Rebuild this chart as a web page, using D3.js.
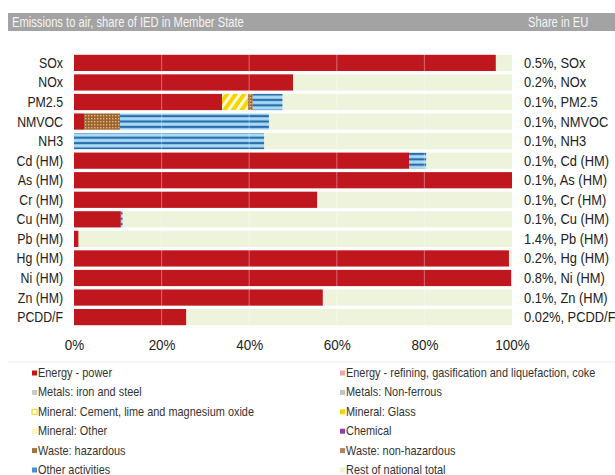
<!DOCTYPE html>
<html>
<head>
<meta charset="utf-8">
<script src="https://cdn.jsdelivr.net/npm/d3@7"></script>
<style>
  body { margin: 0; background: #fff; }
  svg { display: block; }
</style>
</head>
<body>
<div id="chart"></div>
<script>
/* global d3 */

// pollutants, top to bottom
var categories = ["SOx", "NOx", "PM2.5", "NMVOC", "NH3", "Cd (HM)", "As (HM)", "Cr (HM)",
  "Cu (HM)", "Pb (HM)", "Hg (HM)", "Ni (HM)", "Zn (HM)", "PCDD/F"];

// share in EU (right hand labels)
var euShare = ["0.5%", "0.2%", "0.1%", "0.1%", "0.1%", "0.1%", "0.1%", "0.1%",
  "0.1%", "1.4%", "0.2%", "0.8%", "0.1%", "0.02%"];

// share of national total, percent, per IED sector
var energyPower     = [96.3, 50.0, 33.8, 2.3, 0, 76.5, 100, 55.5, 10.7, 1.0, 99.3, 99.8, 56.8, 25.6];
var mineralCement   = [0, 0, 5.9, 0, 0, 0, 0, 0, 0, 0, 0, 0, 0, 0];
var wasteHazardous  = [0, 0, 1.1, 8.2, 0, 0, 0, 0, 0, 0, 0, 0, 0, 0];
var otherActivities = [0, 0, 6.8, 34.0, 43.4, 3.9, 0, 0, 0.4, 0, 0, 0, 0, 0];

var xTicks = [0, 20, 40, 60, 80, 100];

var legendLeft = [
  { name: "Energy - power", color: "#c0171f" },
  { name: "Metals: iron and steel", color: "#c9c9c9" },
  { name: "Mineral: Cement, lime and magnesium oxide", color: "#fff", stroke: "#f2d400" },
  { name: "Mineral: Other", color: "#fdf5bf" },
  { name: "Waste: hazardous", color: "#a4703c" },
  { name: "Other activities", color: "#4a8fd4" }
];
var legendRight = [
  { name: "Energy - refining, gasification and liquefaction, coke", color: "#f3a3ab" },
  { name: "Metals: Non-ferrous", color: "#c4c4c4" },
  { name: "Mineral: Glass", color: "#f4d600" },
  { name: "Chemical", color: "#8e3fb0" },
  { name: "Waste: non-hazardous", color: "#b08462" },
  { name: "Rest of national total", color: "#eef3dc" }
];

var W = 615, H = 475;
var FONT = "'Liberation Sans', Arial, sans-serif";
var SQ = 0.88;   // horizontal squeeze, the original uses a condensed face

var svg = d3.select("#chart").append("svg")
  .attr("width", W)
  .attr("height", H);

// text squeezed horizontally, anchored at x
function squeezed(sel, xPos, k) {
  return sel
    .attr("x", function (d, i) { return (typeof xPos === "function" ? xPos(d, i) : xPos) / k; })
    .attr("transform", "scale(" + k + ",1)");
}

//* PATTERNS
var defs = svg.append("defs");

var pStripe = defs.append("pattern")
  .attr("id", "pOther")
  .attr("patternUnits", "userSpaceOnUse")
  .attr("width", 6).attr("height", 5.4);
pStripe.append("rect").attr("width", 6).attr("height", 5.4).attr("fill", "#a9dcf4");
pStripe.append("rect").attr("y", 1.6).attr("width", 6).attr("height", 2.2).attr("fill", "#2a6aae");

var pHatch = defs.append("pattern")
  .attr("id", "pCement")
  .attr("patternUnits", "userSpaceOnUse")
  .attr("width", 7).attr("height", 7)
  .attr("patternTransform", "rotate(35)");
pHatch.append("rect").attr("width", 7).attr("height", 7).attr("fill", "#fff9d8");
pHatch.append("rect").attr("width", 4).attr("height", 7).attr("fill", "#f5d400");

var pCheck = defs.append("pattern")
  .attr("id", "pWaste")
  .attr("patternUnits", "userSpaceOnUse")
  .attr("width", 3).attr("height", 3);
pCheck.append("rect").attr("width", 3).attr("height", 3).attr("fill", "#9a6330");
pCheck.append("rect").attr("x", 1).attr("y", 1).attr("width", 1.4).attr("height", 1.4).attr("fill", "#e0b880");

//* TITLE BAR
svg.append("rect")
  .attr("x", 8).attr("y", 13)
  .attr("width", W - 8).attr("height", 18)
  .attr("fill", "#a3a3a3");

svg.append("text")
  .call(squeezed, 12, 0.8)
  .attr("y", 27)
  .attr("font-family", FONT)
  .attr("font-size", 14)
  .style("fill", "#f4f4f4")
  .text("Emissions to air, share of IED in Member State");

svg.append("text")
  .call(squeezed, 528, 0.8)
  .attr("y", 27)
  .attr("font-family", FONT)
  .attr("font-size", 14)
  .style("fill", "#f4f4f4")
  .text("Share in EU");

//* SCALES
var x = d3.scaleLinear().domain([0, 100]).range([74, 512]);
var y = d3.scaleBand().domain(categories).range([54, 326]).paddingInner(0.17).paddingOuter(0.04);

// stack the sectors, rest of national total fills to 100
var series = [
  { key: "energy", values: energyPower, fill: "#c0171f" },
  { key: "cement", values: mineralCement, fill: "url(#pCement)" },
  { key: "waste", values: wasteHazardous, fill: "url(#pWaste)" },
  { key: "other", values: otherActivities, fill: "url(#pOther)" }
];

var rows = categories.map(function (c, i) {
  var row = { cat: c };
  var acc = 0;
  series.forEach(function (s) {
    row[s.key] = [acc, acc + s.values[i]];
    acc += s.values[i];
  });
  row.rest = [acc, 100];
  return row;
});

var plot = svg.append("g");

// rest of national total (background)
plot.selectAll("rect.rest")
  .data(rows)
  .enter().append("rect")
  .attr("class", "rest")
  .attr("x", function (d) { return x(d.rest[0]); })
  .attr("width", function (d) { return Math.max(0, x(d.rest[1]) - x(d.rest[0])); })
  .attr("y", function (d) { return y(d.cat); })
  .attr("height", y.bandwidth())
  .attr("fill", "#eef3dc");

series.forEach(function (s) {
  plot.selectAll("rect." + s.key)
    .data(rows.filter(function (d) { return d[s.key][1] > d[s.key][0]; }))
    .enter().append("rect")
    .attr("class", s.key)
    .attr("x", function (d) { return x(d[s.key][0]); })
    .attr("width", function (d) { return x(d[s.key][1]) - x(d[s.key][0]); })
    .attr("y", function (d) { return y(d.cat); })
    .attr("height", y.bandwidth())
    .attr("fill", s.fill);
});

// faint gridlines on top
plot.selectAll("line.grid")
  .data(xTicks.slice(1, -1))
  .enter().append("line")
  .attr("x1", function (d) { return x(d); })
  .attr("x2", function (d) { return x(d); })
  .attr("y1", 54).attr("y2", 326)
  .attr("stroke", "#fff")
  .attr("stroke-opacity", 0.3)
  .attr("stroke-width", 1.2);

//* LEFT LABELS
svg.selectAll("text.cat")
  .data(categories)
  .enter().append("text")
  .attr("class", "cat")
  .call(squeezed, 63, SQ)
  .attr("y", function (d) { return y(d) + y.bandwidth() / 2 + 5; })
  .attr("font-family", FONT)
  .attr("font-size", 14)
  .attr("text-anchor", "end")
  .style("fill", "#222")
  .text(function (d) { return d; });

//* RIGHT LABELS
svg.selectAll("text.share")
  .data(categories)
  .enter().append("text")
  .attr("class", "share")
  .call(squeezed, 524, 0.92)
  .attr("y", function (d) { return y(d) + y.bandwidth() / 2 + 5; })
  .attr("font-family", FONT)
  .attr("font-size", 14)
  .style("fill", "#222")
  .text(function (d, i) { return euShare[i] + ", " + d; });

//* X AXIS
var axis = svg.append("g")
  .attr("transform", "translate(0,337)")
  .call(d3.axisBottom(x).tickValues(xTicks).tickSize(0).tickFormat(function (d) { return d + "%"; }));
axis.select(".domain").remove();
axis.selectAll(".tick text")
  .attr("transform", "scale(0.96,1)")
  .attr("x", 0)
  .attr("font-family", FONT)
  .attr("font-size", 14)
  .style("fill", "#222");

svg.append("line")
  .attr("x1", 8).attr("x2", W)
  .attr("y1", 362).attr("y2", 362)
  .attr("stroke", "#ececec");

//* LEGEND
function drawLegend(items, lx) {
  var g = svg.append("g");
  var item = g.selectAll("g")
    .data(items)
    .enter().append("g")
    .attr("transform", function (d, i) { return "translate(" + lx + "," + (377 + i * 19.4) + ")"; });
  item.append("rect")
    .attr("x", 0).attr("y", -6.5)
    .attr("width", 5).attr("height", 5)
    .attr("fill", function (d) { return d.color; })
    .attr("stroke", function (d) { return d.stroke || "none"; })
    .attr("stroke-width", 1);
  item.append("text")
    .call(squeezed, 6, 0.84)
    .attr("y", 0)
    .attr("font-family", FONT)
    .attr("font-size", 13)
    .style("fill", "#333")
    .text(function (d) { return d.name; });
}
drawLegend(legendLeft, 32);
drawLegend(legendRight, 340);
</script>
</body>
</html>
